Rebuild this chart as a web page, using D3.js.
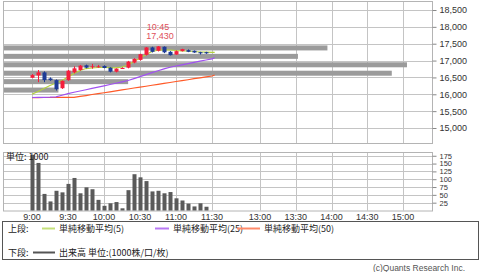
<!DOCTYPE html>
<html>
<head>
<meta charset="utf-8">
<script src="https://cdn.jsdelivr.net/npm/d3@7"></script>
<style>
  body { margin: 0; background: #fff; }
  text { font-family: "Liberation Sans", Arial, sans-serif; }
  .jp { font-family: "Noto Sans CJK JP", "Noto Sans", sans-serif; }
</style>
</head>
<body>
<div id="chart"></div>
<script>
// 5-minute bars (morning session)
const barTimes = ["9:00","9:05","9:10","9:15","9:20","9:25","9:30","9:35","9:40","9:45",
  "9:50","9:55","10:00","10:05","10:10","10:15","10:20","10:25","10:30","10:35",
  "10:40","10:45","10:50","10:55","11:00","11:05","11:10","11:15","11:20","11:25"];
const openP  = [16490,16560,16650,16470,16420,16180,16420,16650,16720,16860,
  16810,16810,16840,16790,16670,16760,16790,16940,17020,17170,
  17390,17290,17410,17260,17180,17280,17310,17290,17250,17250];
const highP  = [16600,16720,16680,16500,16440,16410,16720,16830,16870,16880,
  16900,16870,16860,16800,16770,16800,16990,17070,17200,17400,
  17410,17430,17420,17280,17300,17350,17330,17300,17260,17260];
const lowP   = [16480,16360,16360,16400,16110,16160,16400,16620,16700,16770,
  16760,16790,16770,16650,16650,16750,16770,16920,17000,17150,
  17240,17270,17220,17150,17170,17270,17250,17230,17180,17200];
const closeP = [16570,16650,16420,16420,16150,16400,16700,16770,16850,16790,
  16830,16830,16780,16670,16760,16780,16970,17050,17190,17390,
  17260,17420,17245,17160,17280,17340,17260,17240,17215,17215];
const volume = [178,152,53,29,63,58,85,104,55,74,
  68,34,15,23,27,7,65,116,106,94,
  61,63,55,59,39,32,22,13,23,12];

// moving averages
const maTimes = ["9:00","9:05","9:10","9:15","9:20","9:25","9:30","9:35","9:40","9:45",
  "9:50","9:55","10:00","10:05","10:10","10:15","10:20","10:25","10:30","10:35",
  "10:40","10:45","10:50","10:55","11:00","11:05","11:10","11:15","11:20","11:25","11:30","11:35"];
const ma5  = [16000,16082,16171,16260,16334,16408,16512,16616,16705,16764,
  16779,16794,16794,16788,16785,16809,16868,16972,17076,17180,
  17269,17307,17319,17313,17298,17289,17284,17269,17254,17248,17245,17245];
const ma25 = [15904,15907,15910,15913,15922,15972,16020,16061,16097,16135,
  16174,16212,16251,16290,16328,16367,16408,16465,16524,16583,
  16643,16699,16752,16803,16838,16874,16910,16945,16981,17016,17052,17085];
const ma50 = [15901,15901,15904,15904,15904,15907,15907,15910,15937,15963,
  15993,16020,16046,16073,16103,16129,16156,16186,16212,16239,
  16269,16296,16322,16349,16379,16405,16432,16462,16488,16515,16542,16571];

// volume by price band (band mid price, 1000 units)
const bandPrices = [17375,17125,16875,16625,16375,16125];
const bandVolume = [363,330,452,435,140,62];

// axis ticks
const priceTicks = [15000,15500,16000,16500,17000,17500,18000,18500];
const volTicks = [25,50,75,100,125,150,175];
const timeTicks = ["9:00","9:30","10:00","10:30","11:00","11:30","13:00","13:30","14:00","14:30","15:00"];

const width = 480, height = 272;
const plotL = 3, plotR = 432;
const upTop = 1, upBottom = 143;
const loTop = 152, loBottom = 210.5;

const toMin = t => { const p = t.split(":"); return (+p[0] - 9) * 60 + (+p[1]); };

const svg = d3.select("#chart").append("svg")
  .attr("width", width).attr("height", height);

const x = d3.scaleLinear().domain([0, 150, 240, 360]).range([32, 212, 260, 403]);
const y = d3.scaleLinear().domain([15000, 18500]).range([128, 10]);
const yv = d3.scaleLinear().domain([0, 187]).range([loBottom, loTop]);
const bx = d3.scaleLinear().domain([0, 480]).range([plotL, plotR]);

const gridColor = "#c4c4c4";

// grids
function grid(top, bottom, yTicks, ys) {
  const g = svg.append("g");
  g.selectAll(".h").data(yTicks).enter().append("line")
    .attr("x1", plotL).attr("x2", plotR)
    .attr("y1", d => Math.round(ys(d)) + 0.5).attr("y2", d => Math.round(ys(d)) + 0.5)
    .attr("stroke", gridColor);
  g.selectAll(".v").data(timeTicks).enter().append("line")
    .attr("x1", d => Math.round(x(toMin(d))) + 0.5).attr("x2", d => Math.round(x(toMin(d))) + 0.5)
    .attr("y1", top).attr("y2", bottom)
    .attr("stroke", gridColor);
  g.append("rect")
    .attr("x", plotL + 0.5).attr("y", top + 0.5)
    .attr("width", plotR - plotL).attr("height", bottom - top)
    .attr("fill", "none").attr("stroke", "#b4b4b4");
}
grid(upTop, upBottom, priceTicks, y);
grid(loTop, loBottom, volTicks, yv);

// right axes
svg.append("g")
  .attr("transform", `translate(${plotR + 0.5},0)`)
  .call(d3.axisRight(y).tickValues(priceTicks).tickFormat(d3.format(",")).tickSize(4).tickPadding(3))
  .call(g => g.select(".domain").remove())
  .call(g => g.selectAll("line").attr("stroke", "#888"))
  .call(g => g.selectAll("text").attr("font-size", 9).attr("fill", "#333")
    .attr("font-family", "Liberation Sans, Arial, sans-serif"));

svg.append("g")
  .attr("transform", `translate(${plotR + 0.5},0)`)
  .call(d3.axisRight(yv).tickValues(volTicks).tickSize(4).tickPadding(3))
  .call(g => g.select(".domain").remove())
  .call(g => g.selectAll("line").attr("stroke", "#888"))
  .call(g => g.selectAll("text").attr("font-size", 7.5).attr("fill", "#333")
    .attr("font-family", "Liberation Sans, Arial, sans-serif"));

// time labels
svg.selectAll(".tlab").data(timeTicks).enter().append("text")
  .attr("x", d => x(toMin(d))).attr("y", 220)
  .attr("text-anchor", "middle").attr("font-size", 9).attr("fill", "#333")
  .text(d => d);

// price band volume
svg.selectAll(".band").data(bandPrices).enter().append("rect")
  .attr("x", plotL + 1)
  .attr("y", d => y(d) - 2.5)
  .attr("width", (d, i) => bx(bandVolume[i]) - plotL - 1)
  .attr("height", 5)
  .attr("fill", "#9b9b9b");

// moving averages
const line = d3.line().x(d => x(toMin(d[0]))).y(d => y(d[1]));
[[ma50, "#ff5a28"], [ma25, "#a050f0"], [ma5, "#b4d23c"]].forEach(([vals, col]) => {
  svg.append("path")
    .datum(maTimes.map((t, i) => [t, vals[i]]))
    .attr("fill", "none").attr("stroke", col).attr("stroke-width", 1.2)
    .attr("d", line);
});

// candles
const up = "#f51e3c", down = "#1e3c96";
const candles = barTimes.map((t, i) => ({ t, o: openP[i], h: highP[i], l: lowP[i], c: closeP[i] }));
const cg = svg.append("g");
cg.selectAll(".wick").data(candles).enter().append("line")
  .attr("x1", d => Math.round(x(toMin(d.t))) + 0.5).attr("x2", d => Math.round(x(toMin(d.t))) + 0.5)
  .attr("y1", d => y(d.h)).attr("y2", d => y(d.l))
  .attr("stroke", d => d.c >= d.o ? up : down);
cg.selectAll(".body").data(candles).enter().append("rect")
  .attr("x", d => Math.round(x(toMin(d.t))) - 1.5)
  .attr("y", d => y(Math.max(d.o, d.c)))
  .attr("width", 4)
  .attr("height", d => Math.max(1, Math.abs(y(d.o) - y(d.c))))
  .attr("fill", d => d.c >= d.o ? up : down);

// high annotation
const hi = d3.maxIndex(highP);
const hx = x(toMin(barTimes[hi]));
svg.append("text").attr("x", hx).attr("y", y(highP[hi]) - 16)
  .attr("text-anchor", "middle").attr("font-size", 9).attr("fill", "#e0505a").text(barTimes[hi]);
svg.append("text").attr("x", hx + 2).attr("y", y(highP[hi]) - 7)
  .attr("text-anchor", "middle").attr("font-size", 9).attr("fill", "#e0505a").text(d3.format(",")(highP[hi]));

// volume bars
svg.selectAll(".vol").data(volume).enter().append("rect")
  .attr("x", (d, i) => Math.round(x(toMin(barTimes[i]))) - 1.5)
  .attr("y", d => yv(d))
  .attr("width", 4)
  .attr("height", d => loBottom - yv(d))
  .attr("fill", "#5a5a5a");

svg.append("text").attr("class", "jp").attr("x", 6).attr("y", 160)
  .attr("font-size", 9).attr("fill", "#222").text("単位: 1000");

// legend
svg.append("rect").attr("x", 2.5).attr("y", 221.5).attr("width", 476).attr("height", 38)
  .attr("fill", "#fff").attr("stroke", "#555");

const legendItems = [
  { label: "単純移動平均(5)", color: "#c4e07a", x1: 42, x2: 55 },
  { label: "単純移動平均(25)", color: "#b878f4", x1: 155, x2: 169 },
  { label: "単純移動平均(50)", color: "#ff8a6a", x1: 237, x2: 260 }
];
svg.append("text").attr("class", "jp").attr("x", 8).attr("y", 232)
  .attr("font-size", 9).attr("fill", "#222").text("上段:");
legendItems.forEach(d => {
  svg.append("line").attr("x1", d.x1).attr("x2", d.x2).attr("y1", 228.5).attr("y2", 228.5)
    .attr("stroke", d.color).attr("stroke-width", 2);
  svg.append("text").attr("class", "jp").attr("x", d.x2 + 4).attr("y", 232)
    .attr("font-size", 9).attr("fill", "#222").text(d.label);
});
svg.append("text").attr("class", "jp").attr("x", 8).attr("y", 256)
  .attr("font-size", 9).attr("fill", "#222").text("下段:");
svg.append("line").attr("x1", 33).attr("x2", 55).attr("y1", 252.5).attr("y2", 252.5)
  .attr("stroke", "#555").attr("stroke-width", 2);
svg.append("text").attr("class", "jp").attr("x", 59).attr("y", 256)
  .attr("font-size", 9).attr("fill", "#222").text("出来高 単位:(1000株/口/枚)");

svg.append("text").attr("x", 465).attr("y", 271)
  .attr("text-anchor", "end").attr("font-size", 8.5).attr("fill", "#555")
  .text("(c)Quants Research Inc.");
</script>
</body>
</html>
